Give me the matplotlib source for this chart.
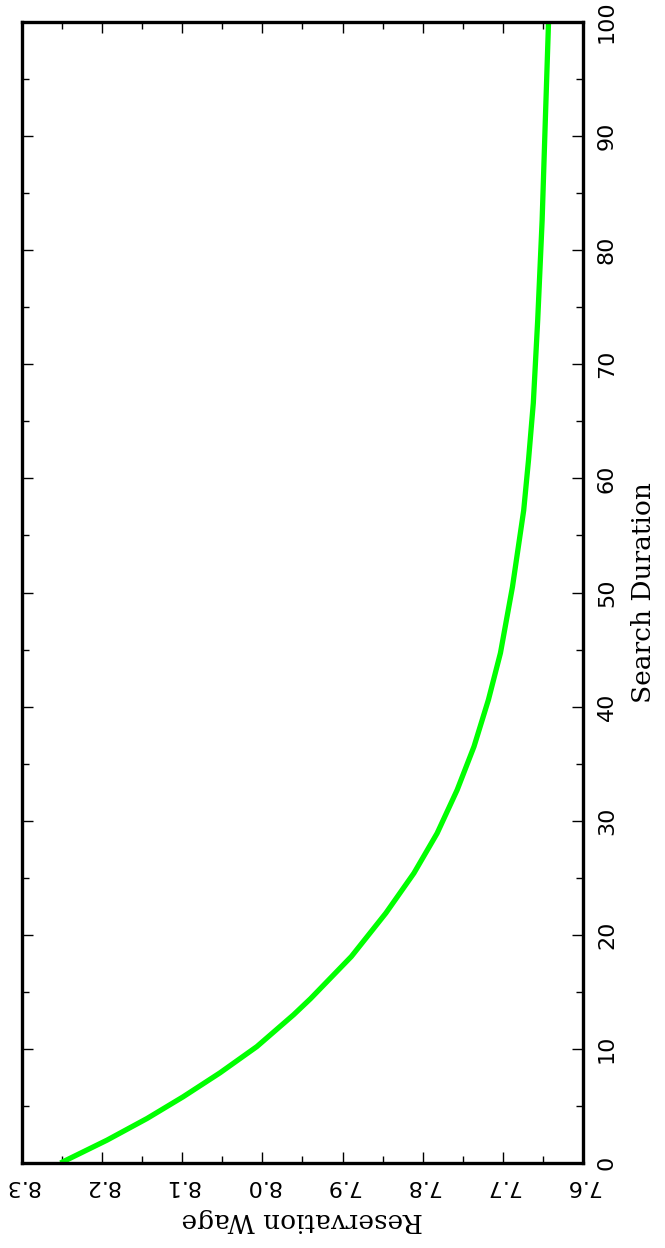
import numpy as np
import matplotlib
matplotlib.use('Agg')
import matplotlib.pyplot as plt
from matplotlib.ticker import MultipleLocator, FormatStrFormatter

search_duration = [0, 2.0, 3.9, 5.8, 7.9, 10.2, 13.0, 14.4, 18.1, 21.9, 25.4, 28.9,
                   32.7, 36.5, 40.6, 44.7, 50.5, 57.2, 61.6, 66.6, 73.9, 82.6, 91.4, 100]
reservation_wage = [8.252, 8.194, 8.144, 8.099, 8.053, 8.007, 7.961, 7.940, 7.889,
                    7.846, 7.811, 7.782, 7.757, 7.736, 7.718, 7.703, 7.688, 7.674,
                    7.668, 7.662, 7.6565, 7.651, 7.647, 7.643]

W, H = 665, 1248
fig = plt.figure(figsize=(W / 100, H / 100), dpi=100)
ax = fig.add_axes([22 / W, (H - 1163) / H, (583 - 22) / W, (1163 - 22) / H])

# chart is drawn turned a quarter turn: wage runs along the bottom, duration upwards
ax.plot(reservation_wage, search_duration, color='#00ff00', linewidth=3.8,
        solid_capstyle='butt', solid_joinstyle='round')

ax.set_xlim(8.3, 7.6)
ax.set_ylim(0, 100)

ax.xaxis.set_major_locator(MultipleLocator(0.1))
ax.xaxis.set_minor_locator(MultipleLocator(0.05))
ax.xaxis.set_major_formatter(FormatStrFormatter('%.1f'))
ax.yaxis.set_major_locator(MultipleLocator(10))
ax.yaxis.set_minor_locator(MultipleLocator(5))

for s in ax.spines.values():
    s.set_linewidth(2.4)

ax.tick_params(which='both', direction='in', top=True, right=True,
               left=True, bottom=True, labelleft=False, labelright=True,
               width=1.0, colors='black')
ax.tick_params(which='major', length=8)
ax.tick_params(which='minor', length=5)
ax.tick_params(axis='x', pad=9, labelsize=16)
ax.tick_params(axis='y', pad=10, labelsize=16)

for lab in ax.get_xticklabels():
    lab.set_rotation(180)
    lab.set_fontfamily('DejaVu Sans')
for lab in ax.get_yticklabels():
    lab.set_rotation(90)
    lab.set_fontfamily('DejaVu Sans')
    lab.set_va('center')

ax.set_xlabel('Reservation Wage', fontfamily='DejaVu Serif', fontsize=19,
              rotation=180, labelpad=9)
ax.yaxis.set_label_position('right')
ax.set_ylabel('Search Duration', fontfamily='DejaVu Serif', fontsize=19,
              rotation=90, labelpad=10)

fig.savefig('out.png', dpi=100)
